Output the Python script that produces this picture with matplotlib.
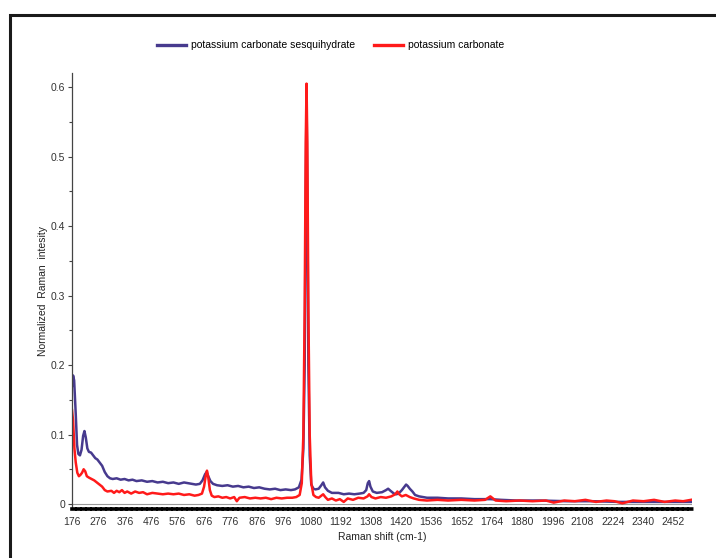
import matplotlib.pyplot as plt
from matplotlib.patches import Rectangle

# Raman spectra (wavenumber in cm-1, normalized intensity)
sesqui_wn = [176, 180, 184, 190, 195, 200, 206, 212, 218, 223, 228, 234, 240, 248,
             256, 264, 272, 280, 290, 300, 310, 320, 330, 345, 360, 375, 390, 405,
             420, 440, 460, 480, 500, 520, 540, 560, 580, 600, 615, 630, 645, 660,
             670, 680, 686, 692, 700, 710, 725, 745, 765, 785, 805, 825, 845, 865,
             885, 905, 925, 945, 965, 985, 1005, 1020, 1035, 1045, 1052, 1057, 1061,
             1064, 1067, 1071, 1076, 1082, 1090, 1098, 1110, 1120, 1127, 1134, 1145,
             1160, 1185, 1205, 1225, 1245, 1265, 1280, 1290, 1296, 1301, 1306, 1315,
             1330, 1350, 1365, 1373, 1382, 1395, 1405, 1415, 1425, 1435, 1441, 1447,
             1455, 1465, 1475, 1490, 1520, 1560, 1600, 1650, 1700, 1760, 1800, 1860,
             1950, 2050, 2150, 2250, 2350, 2450, 2520]
sesqui_int = [0.170, 0.185, 0.178, 0.130, 0.085, 0.072, 0.070, 0.078, 0.098, 0.105,
              0.096, 0.080, 0.075, 0.074, 0.070, 0.066, 0.064, 0.060, 0.055, 0.046,
              0.040, 0.037, 0.036, 0.037, 0.035, 0.036, 0.034, 0.035, 0.033, 0.034,
              0.032, 0.033, 0.031, 0.032, 0.030, 0.031, 0.029, 0.031, 0.030, 0.029,
              0.028, 0.029, 0.034, 0.043, 0.046, 0.040, 0.033, 0.029, 0.027, 0.026,
              0.027, 0.025, 0.026, 0.024, 0.025, 0.023, 0.024, 0.022, 0.021, 0.022,
              0.020, 0.021, 0.020, 0.021, 0.024, 0.035, 0.080, 0.200, 0.450, 0.590,
              0.450, 0.200, 0.070, 0.028, 0.022, 0.021, 0.022, 0.027, 0.031, 0.024,
              0.019, 0.016, 0.016, 0.014, 0.015, 0.014, 0.015, 0.016, 0.020, 0.030,
              0.033, 0.025, 0.018, 0.016, 0.017, 0.020, 0.022, 0.019, 0.015, 0.014,
              0.016, 0.020, 0.025, 0.028, 0.026, 0.022, 0.018, 0.013, 0.011, 0.009,
              0.009, 0.008, 0.008, 0.007, 0.007, 0.006, 0.005, 0.005, 0.004, 0.004,
              0.003, 0.003, 0.003, 0.003]

carb_wn = [176, 180, 185, 190, 196, 202, 208, 214, 220, 226, 232, 240, 250, 260, 270,
           280, 290, 300, 310, 325, 335, 345, 355, 365, 375, 385, 400, 415, 430, 445,
           460, 480, 500, 520, 540, 560, 580, 600, 620, 640, 655, 668, 676, 682, 687,
           692, 698, 705, 715, 730, 745, 760, 775, 790, 800, 810, 830, 850, 870, 890,
           910, 930, 950, 970, 990, 1010, 1025, 1038, 1046, 1052, 1057, 1061, 1064,
           1067, 1071, 1076, 1082, 1090, 1100, 1110, 1120, 1127, 1135, 1145, 1160,
           1175, 1190, 1205, 1220, 1240, 1260, 1280, 1295, 1301, 1310, 1325, 1345,
           1365, 1385, 1400, 1408, 1415, 1425, 1440, 1455, 1470, 1490, 1520, 1560,
           1600, 1650, 1700, 1740, 1760, 1780, 1820, 1870, 1920, 1970, 2000, 2040,
           2080, 2120, 2160, 2200, 2230, 2260, 2300, 2340, 2380, 2420, 2460, 2490, 2520]
carb_int = [0.135, 0.120, 0.080, 0.060, 0.045, 0.040, 0.042, 0.045, 0.050, 0.047,
            0.040, 0.038, 0.036, 0.034, 0.031, 0.028, 0.025, 0.020, 0.018, 0.019,
            0.016, 0.019, 0.017, 0.020, 0.016, 0.018, 0.015, 0.018, 0.016, 0.017,
            0.014, 0.016, 0.015, 0.014, 0.015, 0.014, 0.015, 0.013, 0.014, 0.012,
            0.013, 0.015, 0.025, 0.040, 0.048, 0.038, 0.020, 0.012, 0.010, 0.011,
            0.009, 0.010, 0.008, 0.010, 0.004, 0.009, 0.010, 0.008, 0.009, 0.008,
            0.009, 0.007, 0.009, 0.008, 0.009, 0.009, 0.010, 0.013, 0.030, 0.100,
            0.280, 0.520, 0.605, 0.520, 0.280, 0.100, 0.030, 0.013, 0.010, 0.009,
            0.012, 0.014, 0.010, 0.006, 0.008, 0.005, 0.007, 0.003, 0.008, 0.006,
            0.009, 0.008, 0.011, 0.014, 0.010, 0.008, 0.010, 0.009, 0.011, 0.014,
            0.018, 0.014, 0.011, 0.013, 0.010, 0.008, 0.006, 0.005, 0.006, 0.005,
            0.006, 0.005, 0.006, 0.011, 0.005, 0.004, 0.005, 0.004, 0.005, 0.002,
            0.005, 0.004, 0.006, 0.003, 0.005, 0.004, 0.001, 0.005, 0.004, 0.006,
            0.003, 0.005, 0.004, 0.006]

tick_wn = [176, 276, 376, 476, 576, 676, 776, 876, 976, 1080, 1192, 1308, 1420,
           1536, 1652, 1764, 1880, 1996, 2108, 2224, 2340, 2452]
y_ticks = [0, 0.1, 0.2, 0.3, 0.4, 0.5, 0.6]
y_ticklabels = ['0', '0.1', '0.2', '0.3', '0.4', '0.5', '0.6']

plt.rcParams['font.family'] = ['Liberation Sans', 'DejaVu Sans']

fig = plt.figure(figsize=(7.16, 5.58), dpi=100)
ax = fig.add_axes([0.1006, 0.0878, 0.866, 0.781])

ax.plot(sesqui_wn, sesqui_int, color='#473a8e', lw=1.8,
        label='potassium carbonate sesquihydrate')
ax.plot(carb_wn, carb_int, color='#ff1a1a', lw=1.8, label='potassium carbonate')
ax.axhline(0, color='#999999', lw=0.8, zorder=0)

ax.set_xlim(176, 2524)
ax.set_ylim(-0.0072, 0.62)
ax.set_xticks(tick_wn)
ax.set_xticklabels([str(t) for t in tick_wn], fontsize=7.5, color='#333333')
ax.set_yticks(y_ticks)
ax.set_yticklabels(y_ticklabels, fontsize=7.5, color='#333333')
ax.set_yticks([0.05, 0.15, 0.25, 0.35, 0.45, 0.55], minor=True)
ax.tick_params(axis='x', length=0, pad=6)
ax.tick_params(axis='y', which='major', length=3, width=0.8, color='#444444', pad=2)
ax.tick_params(axis='y', which='minor', length=2, width=0.8, color='#444444')

for side in ['top', 'right']:
    ax.spines[side].set_visible(False)
ax.spines['left'].set_color('#444444')
ax.spines['left'].set_linewidth(0.9)
ax.spines['bottom'].set_color('black')
ax.spines['bottom'].set_linewidth(2.6)
ax.spines['bottom'].set_linestyle((0, (0.8, 0.6)))

ax.set_xlabel('Raman shift (cm-1)', fontsize=7.5, color='#222222', labelpad=3)
ax.set_ylabel('Normalized  Raman  intesity', fontsize=7.5, color='#222222', labelpad=2)

fig.legend(loc='center', bbox_to_anchor=(0.462, 0.919), ncol=2, frameon=False,
           fontsize=7.5, handlelength=2.8, columnspacing=1.8, handletextpad=0.5)
leg = fig.legends[0]
for line in leg.get_lines():
    line.set_linewidth(2.4)

# outer frame
fig.patches.append(Rectangle((10 / 716, -0.1), 1.2, 1.0 - 15 / 558 + 0.1,
                             transform=fig.transFigure, fill=False,
                             edgecolor='#1a1a1a', lw=2.2))

fig.savefig('out.png', dpi=100)
